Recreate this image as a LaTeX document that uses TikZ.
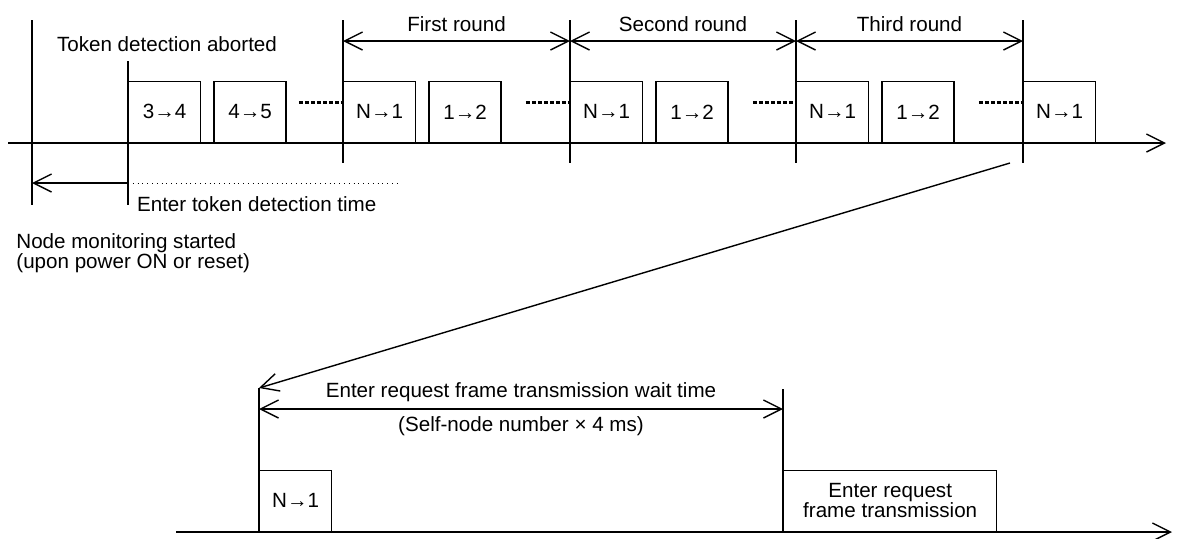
\documentclass[tikz,border=0pt]{standalone}
\usepackage{fontspec}
\setmainfont{Liberation Sans}
\usetikzlibrary{arrows.meta,positioning}

\begin{document}
\begin{tikzpicture}[
    x=0.5pt, y=-0.5pt,
    font=\fontsize{10.3}{10}\selectfont,
    node distance=6pt,
    barb/.tip   = {Straight Barb[length=9pt, width=9pt]},
    ln/.style   = {line width=0.7pt},
    arr/.style  = {ln, -barb},
    darr/.style = {ln, barb-barb},
    frame/.style= {draw, ln, anchor=south west, inner sep=0pt, align=center,
                   minimum width=36pt, minimum height=30.5pt},
    gap/.style  = {line width=1.4pt, dash pattern=on 2pt off 1pt},
    lead/.style = {line width=0.4pt, dotted},
]
\useasboundingbox (0,0) rectangle (1178,538);

% ============ Top time axis ============
\coordinate (axL) at (8,143);
\coordinate (axR) at (1166,143);
\draw[arr] (axL) -- (axR);

\foreach \n/\x/\t/\b in {m0/32/20/205, m1/128/61/205, r1/343/20/163,
                         r2/570/20/163, r3/796/20/163, r4/1023/20/163} {
    \coordinate (\n t) at (\x,\t);
    \coordinate (\n u) at (\x,41);
    \coordinate (\n) at (\x,143);
    \coordinate (\n b) at (\x,\b);
    \draw[ln] (\n t) -- (\n b);
}

% ============ Token frames ============
\node[frame] (b34) at (m1) {3→4};
\node[frame, right=of b34] (b45) {4→5};
\foreach \i in {1,...,4}
    \node[frame] (n\i) at (r\i) {N→1};
\foreach \i in {1,2,3}
    \node[frame, right=of n\i] (o\i) {1→2};

\draw[gap] ([xshift=6pt, yshift=4.75pt]b45.east) -- ([yshift=4.75pt]n1.west);
\foreach \a/\b in {o1/n2, o2/n3, o3/n4}
    \draw[gap] ([xshift=12pt, yshift=4.75pt]\a.east) -- ([yshift=4.75pt]\b.west);

% ============ Rounds ============
\foreach \a/\b/\t in {r1/r2/First round, r2/r3/Second round, r3/r4/Third round}
    \draw[darr] (\a u) -- (\b u) node[midway, above=1pt] {\t};

% ============ Token detection ============
\node (abort) at (167,44) {Token detection aborted};

\coordinate (tdE) at (128,183);
\coordinate (tdS) at (32,183);
\coordinate (tdD) at (400,183);
\draw[arr]  (tdE) -- (tdS);
\draw[lead] (tdE) -- (tdD);
\node[anchor=west] (tdlbl) at (130,204) {Enter token detection time};

\node[anchor=north west, align=left, inner sep=0pt] (start) at (16,233)
    {Node monitoring started\\(upon power ON or reset)};

% ============ Enlarged view ============
\coordinate (zA)  at (1010,163);
\coordinate (w0)  at (259,388);
\coordinate (w1)  at (783,389);
\coordinate (wa)  at (259,409);
\coordinate (wb)  at (783,409);
\coordinate (w0b) at (259,532);
\coordinate (w1b) at (783,532);
\coordinate (bL)  at (176,532);
\coordinate (bR)  at (1172,532);

\draw[arr] (zA) -- (w0);
\draw[arr] (bL) -- (bR);
\draw[ln]  (w0) -- (w0b);
\draw[ln]  (w1) -- (w1b);
\draw[darr] (wa) -- (wb)
    node[midway, above] {Enter request frame transmission wait time}
    node[midway, below] {(Self-node number × 4 ms)};

\node[frame] (nb) at (w0b) {N→1};
\node[frame, minimum width=106.5pt] (req) at (w1b)
    {Enter request\\frame transmission};

\end{tikzpicture}
\end{document}
